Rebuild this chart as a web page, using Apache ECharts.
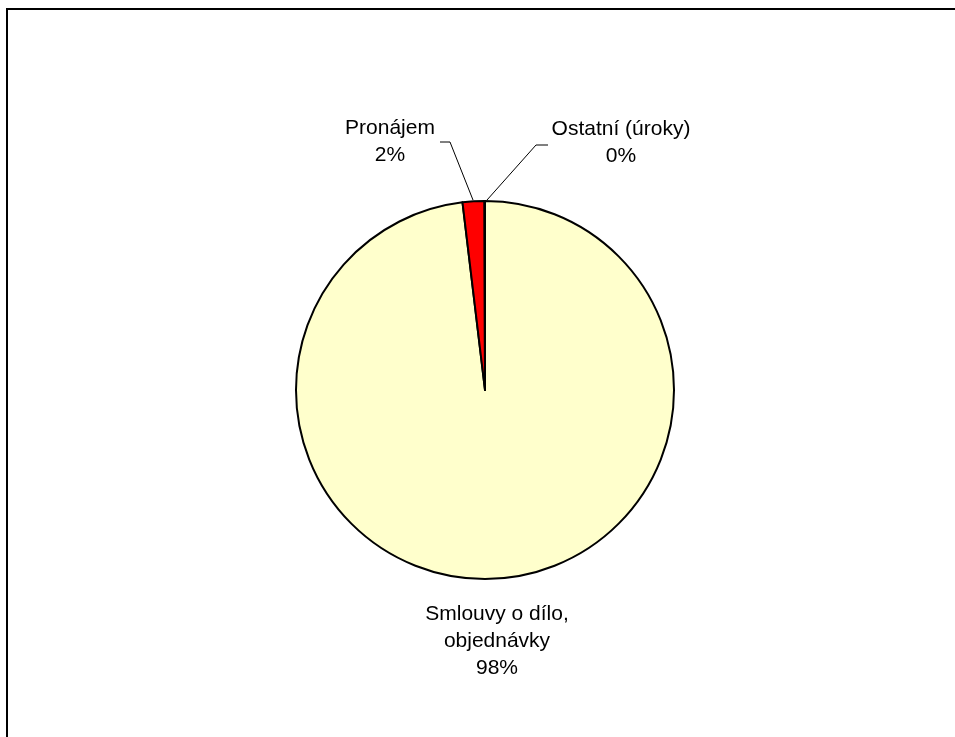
<!DOCTYPE html>
<html>
<head>
<meta charset="utf-8">
<script src="https://cdn.jsdelivr.net/npm/echarts@6/dist/echarts.min.js"></script>
<style>
  html, body { margin: 0; padding: 0; background: #fff; }
  #chart { width: 955px; height: 737px; }
</style>
</head>
<body>
<div id="chart"></div>
<script>
const categories = ['Smlouvy o dílo, objednávky', 'Pronájem', 'Ostatní (úroky)']
const shares = [98.1, 1.86, 0.04]
const colors = ['#FFFFCC', '#FF0000', '#FFFFCC']

// hand-placed label spots (like the original), and their leader lines
const labelPos = [
  { x: 497, y: 641, line: null },
  { x: 390, y: 142, line: [[473, 200], [450, 142], [440, 142]] },
  { x: 621, y: 143, line: [[487, 200], [536, 145], [548, 145]] }
]

const chart = echarts.init(document.getElementById('chart'), null, { renderer: 'canvas' })

chart.setOption({
  backgroundColor: '#fff',
  animation: false,
  graphic: [{
    type: 'rect', silent: true,
    shape: { x: 7, y: 9, width: 1200, height: 1200 },
    style: { fill: 'none', stroke: '#000', lineWidth: 2 }
  }],
  series: [{
    type: 'pie',
    center: [485, 390],
    radius: 189,
    startAngle: 90,
    clockwise: true,
    percentPrecision: 0,
    avoidLabelOverlap: false,
    itemStyle: { borderColor: '#000', borderWidth: 2 },
    label: {
      show: true,
      color: '#000',
      fontFamily: 'Liberation Sans, Arial, sans-serif',
      fontSize: 21,
      lineHeight: 27,
      align: 'center',
      formatter: p => p.name.replace(', ', ',\n') + '\n' + p.percent + '%'
    },
    labelLine: { show: true, lineStyle: { color: '#000', width: 1 } },
    labelLayout: p => {
      const pos = labelPos[p.dataIndex]
      const out = { x: pos.x, y: pos.y, align: 'center', verticalAlign: 'middle' }
      if (pos.line) out.labelLinePoints = pos.line
      return out
    },
    data: categories.map((name, i) => ({
      name, value: shares[i],
      itemStyle: { color: colors[i] },
      labelLine: { show: i !== 0 }
    }))
  }]
})
</script>
</body>
</html>
